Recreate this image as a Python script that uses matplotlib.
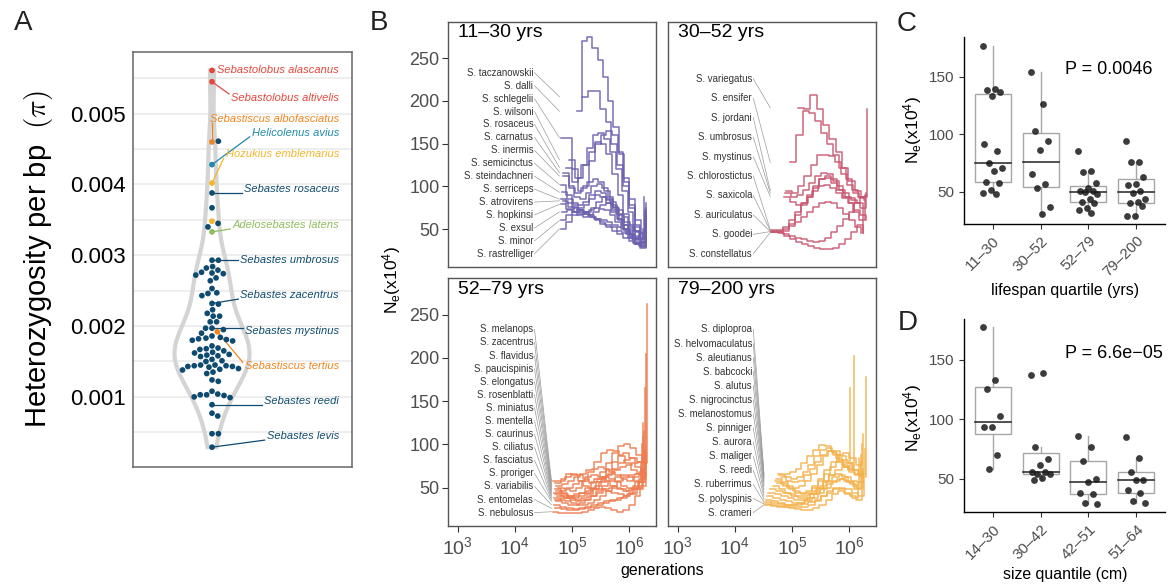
import matplotlib
matplotlib.use("Agg")
import matplotlib.pyplot as plt
import matplotlib.transforms as mtransforms
from matplotlib.patches import Rectangle
import numpy as np

plt.rcParams['font.family'] = ['Liberation Sans', 'DejaVu Sans']
plt.rcParams['mathtext.fontset'] = 'custom'
plt.rcParams['mathtext.rm'] = 'Liberation Sans'
plt.rcParams['mathtext.it'] = 'Liberation Sans:italic'
plt.rcParams['mathtext.bf'] = 'Liberation Sans:bold'

# ---------------- A: heterozygosity per species ----------------
LABELLED = ["Sebastolobus alascanus", "Sebastolobus altivelis", "Sebastiscus albofasciatus",
            "Helicolenus avius", "Hozukius emblemarius", "Sebastes rosaceus",
            "Adelosebastes latens", "Sebastes umbrosus", "Sebastes zacentrus",
            "Sebastes mystinus", "Sebastiscus tertius", "Sebastes reedi", "Sebastes levis"]
LABELLED_PI = [0.00561, 0.00545, 0.00460, 0.00428, 0.00402, 0.00388, 0.00333,
               0.00293, 0.00232, 0.00197, 0.00192, 0.00089, 0.00029]
EXTRA_PI = [0.00348]
EXTRA_GENUS = ["Hozukius"]
SEBASTES_PI = [0.00461, 0.00367, 0.00345, 0.00340, 0.00293,
               0.00284, 0.00282, 0.00279, 0.00276, 0.00275, 0.00274, 0.00272, 0.00268,
               0.00264, 0.00253, 0.00247, 0.00246, 0.00243, 0.00231, 0.00223,
               0.00218, 0.00214, 0.00214, 0.00206, 0.00206, 0.00197, 0.00195, 0.00190,
               0.00186, 0.00184, 0.00183, 0.00182, 0.00181, 0.00180, 0.00179,
               0.00172, 0.00169, 0.00168, 0.00167, 0.00165, 0.00163,
               0.00162, 0.00160, 0.00159, 0.00158, 0.00157, 0.00153, 0.00151, 0.00150,
               0.00145, 0.00145, 0.00144, 0.00144, 0.00143, 0.00143, 0.00142,
               0.00140, 0.00139, 0.00138, 0.00135, 0.00133, 0.00124, 0.00122,
               0.00108, 0.00104, 0.00103, 0.00103, 0.00102, 0.00100, 0.00099,
               0.00077, 0.00073, 0.00048, 0.00048]
GENUS_COLORS = {"Sebastolobus": "#e4473b", "Sebastiscus": "#f0851f", "Helicolenus": "#1f8aab",
                "Hozukius": "#f3b52a", "Sebastes": "#0f4b70", "Adelosebastes": "#8fbd5d"}
# where the species names sit (pi units)
LABEL_Y = [0.005615, 0.005221, 0.004930, 0.004728, 0.004423, 0.003930, 0.003427,
           0.002930, 0.002437, 0.001934, 0.001432, 0.000939, 0.000446]

# ---------------- B: PSMC trajectories by lifespan quartile ----------------
TL_SPECIES = ["S. taczanowskii", "S. dalli", "S. schlegelii", "S. wilsoni", "S. rosaceus",
              "S. carnatus", "S. inermis", "S. semicinctus", "S. steindachneri", "S. serriceps",
              "S. atrovirens", "S. hopkinsi", "S. exsul", "S. minor", "S. rastrelliger"]
TL_START = [5.18, 5.08, 4.80, 4.95, 4.90, 4.85, 4.85, 4.80, 4.82, 4.80, 4.84, 4.80, 4.82, 4.80, 4.80]
TL_END = [6.30, 6.28, 6.30, 6.28, 6.30, 6.28, 6.30, 6.30, 6.26, 6.28, 6.30, 6.24, 6.30, 6.27, 6.29]
TL_NE = [[205, 212, 212, 190, 175, 150, 125, 100, 75, 52, 35, 60],
         [188, 270, 275, 262, 248, 228, 200, 170, 138, 105, 78, 55, 40, 72],
         [157, 157, 120, 95, 100, 130, 150, 160, 165, 160, 140, 110, 85, 60, 45, 80],
         [131, 110, 125, 145, 160, 162, 155, 140, 120, 95, 70, 48, 38, 62],
         [122, 105, 110, 125, 140, 152, 150, 138, 115, 90, 68, 50, 40, 35, 75],
         [116, 98, 92, 98, 105, 108, 105, 95, 82, 68, 55, 45, 38, 32, 58],
         [112, 100, 88, 85, 92, 100, 103, 98, 88, 75, 62, 50, 40, 33, 30, 65],
         [102, 90, 80, 78, 82, 90, 95, 92, 84, 72, 60, 50, 42, 34, 29, 55],
         [93, 85, 78, 75, 78, 85, 90, 88, 80, 70, 62, 55, 48, 42, 38, 88],
         [85, 80, 76, 72, 70, 72, 75, 78, 80, 78, 72, 64, 55, 48, 42, 70],
         [83, 76, 70, 68, 70, 75, 82, 88, 85, 76, 66, 58, 52, 46, 44, 60],
         [79, 74, 70, 66, 64, 66, 70, 74, 72, 66, 58, 50, 44, 38, 32, 50],
         [70, 72, 75, 72, 68, 64, 62, 60, 58, 55, 52, 48, 44, 40, 35, 62],
         [60, 66, 70, 72, 70, 66, 62, 58, 55, 52, 48, 45, 40, 34, 30, 48],
         [50, 58, 66, 70, 68, 64, 60, 56, 52, 48, 44, 40, 36, 32, 28, 66]]

TR_SPECIES = ["S. variegatus", "S. ensifer", "S. jordani", "S. umbrosus", "S. mystinus",
              "S. chlorostictus", "S. saxicola", "S. auriculatus", "S. goodei", "S. constellatus"]
TR_START = [5.10, 4.97, 4.90, 4.88, 4.86, 4.64, 4.64, 4.64, 4.64, 4.64]
TR_END = [6.32, 6.26, 6.28, 6.24, 6.30, 6.28, 6.30, 6.20, 6.30, 6.25]
TR_NE = [[192, 190, 207, 190, 172, 156, 140, 122, 106, 95, 87, 190],
         [128, 160, 188, 186, 176, 162, 150, 137, 122, 108, 96, 88, 84],
         [95, 92, 100, 112, 125, 137, 137, 135, 128, 115, 102, 92, 86, 90],
         [92, 88, 90, 96, 104, 112, 116, 114, 106, 96, 88, 84, 80, 45],
         [88, 82, 78, 80, 88, 98, 108, 112, 108, 100, 92, 86, 80, 75, 90],
         [49, 49, 52, 60, 70, 80, 88, 95, 100, 102, 98, 92, 86, 80, 70, 60, 85],
         [48, 48, 48, 56, 66, 78, 90, 100, 108, 110, 104, 96, 88, 80, 72, 66, 60],
         [47, 47, 50, 54, 58, 64, 70, 76, 80, 82, 80, 75, 68, 60, 52, 45],
         [47, 46, 44, 42, 40, 38, 36, 35, 36, 40, 46, 54, 62, 70, 80, 88, 92],
         [46, 45, 42, 38, 35, 32, 30, 28, 26, 26, 28, 32, 38, 46, 55, 45]]

BL_SPECIES = ["S. melanops", "S. zacentrus", "S. flavidus", "S. paucispinis", "S. elongatus",
              "S. rosenblatti", "S. miniatus", "S. mentella", "S. caurinus", "S. ciliatus",
              "S. fasciatus", "S. proriger", "S. variabilis", "S. entomelas", "S. nebulosus"]
BL_START = [4.67, 4.70, 4.72, 4.75, 4.70, 4.72, 4.68, 4.70, 4.74, 4.68, 4.70, 4.72, 4.68, 4.70, 4.66]
BL_END = [6.32, 6.30, 6.28, 6.25, 6.26, 6.24, 6.22, 6.28, 6.20, 6.30, 6.24, 6.26, 6.22, 6.28, 6.30]
BL_NE = [[58, 58, 62, 66, 64, 60, 55, 60, 68, 78, 90, 98, 100, 96, 88, 78, 262],
         [55, 60, 66, 64, 58, 52, 48, 52, 60, 70, 80, 88, 90, 84, 74, 62, 205],
         [52, 54, 58, 62, 66, 70, 72, 74, 72, 68, 64, 60, 58, 62, 68, 165],
         [50, 48, 46, 50, 58, 68, 80, 90, 94, 92, 86, 78, 70, 66, 125],
         [48, 44, 40, 38, 40, 44, 50, 56, 62, 66, 70, 74, 76, 78, 80, 115],
         [46, 42, 38, 36, 38, 42, 48, 56, 64, 72, 78, 82, 84, 80, 108],
         [44, 46, 50, 54, 58, 62, 64, 62, 58, 52, 48, 46, 48, 56, 100],
         [42, 40, 38, 40, 44, 50, 56, 60, 62, 60, 56, 52, 50, 52, 60, 95],
         [40, 38, 36, 34, 36, 40, 46, 52, 58, 62, 64, 62, 58, 80],
         [38, 36, 34, 32, 30, 30, 32, 36, 40, 46, 52, 58, 62, 64, 66, 70, 90],
         [36, 38, 40, 42, 44, 46, 48, 48, 46, 44, 42, 40, 42, 48, 72],
         [34, 32, 30, 30, 32, 36, 40, 44, 48, 50, 50, 48, 46, 50, 56, 85],
         [30, 28, 26, 25, 26, 28, 30, 32, 34, 36, 38, 40, 44, 50, 65],
         [26, 25, 24, 24, 25, 26, 28, 30, 32, 34, 36, 38, 42, 48, 56, 75],
         [22, 21, 20, 20, 21, 22, 24, 26, 28, 26, 24, 22, 24, 30, 40, 52, 68]]

BR_SPECIES = ["S. diploproa", "S. helvomaculatus", "S. aleutianus", "S. babcocki", "S. alutus",
              "S. nigrocinctus", "S. melanostomus", "S. pinniger", "S. aurora", "S. maliger",
              "S. reedi", "S. ruberrimus", "S. polyspinis", "S. crameri"]
BR_START = [4.76, 4.78, 4.80, 4.72, 4.70, 4.74, 4.66, 4.62, 4.58, 4.56, 4.54, 4.53, 4.53, 4.53]
BR_END = [6.08, 6.30, 6.02, 6.25, 6.22, 6.28, 6.20, 6.25, 6.18, 6.24, 6.20, 6.26, 6.15, 6.22]
BR_NE = [[66, 66, 68, 72, 78, 86, 94, 99, 98, 92, 84, 76, 70, 202],
         [64, 62, 60, 62, 68, 76, 86, 94, 96, 90, 82, 74, 68, 64, 62, 178],
         [62, 58, 56, 58, 64, 72, 80, 88, 92, 88, 80, 74, 165],
         [60, 56, 52, 50, 52, 58, 66, 76, 86, 92, 92, 86, 78, 70, 66, 112],
         [58, 54, 50, 46, 44, 46, 52, 60, 70, 80, 88, 90, 84, 76, 100],
         [55, 52, 48, 44, 42, 44, 50, 58, 66, 74, 80, 82, 78, 70, 64, 95],
         [52, 48, 44, 40, 38, 38, 42, 48, 56, 64, 70, 74, 72, 66, 88],
         [48, 46, 44, 42, 40, 40, 42, 46, 52, 58, 62, 64, 62, 58, 56, 72],
         [44, 42, 40, 38, 36, 36, 38, 42, 48, 54, 58, 60, 56, 52, 84],
         [40, 38, 36, 34, 32, 32, 34, 38, 44, 50, 56, 60, 58, 54, 50, 68],
         [36, 34, 32, 30, 30, 32, 36, 42, 50, 58, 64, 66, 62, 56, 48, 80],
         [33, 32, 31, 30, 30, 30, 31, 33, 36, 40, 44, 48, 50, 48, 44, 40, 60],
         [31, 30, 29, 28, 27, 27, 28, 30, 34, 40, 46, 50, 48, 42, 38, 55],
         [30, 29, 28, 27, 26, 25, 24, 24, 26, 30, 36, 42, 46, 44, 40, 36, 64]]

# ---------------- C / D: mean Ne by quartile ----------------
C_CATS = ["11\u201330", "30\u201352", "52\u201379", "79\u2013200"]
C_NE = [[177, 139, 138, 137, 133.5, 91, 85.7, 74.6, 70.3, 68.3, 58.1, 57.8, 51.4, 49.1, 47.7],
        [153.8, 126, 102.8, 94, 86.2, 65.4, 56.4, 52.9, 37, 30.6],
        [85.7, 68, 66.8, 57.2, 52.9, 50.9, 50.9, 50, 47.7, 43.3, 41.3, 39.9, 35.5, 34, 31.2],
        [94, 76, 76, 62.5, 56.4, 55.8, 50.6, 49, 43.3, 41.3, 39.9, 37.5, 29, 29]]
C_P = "P = 0.0046"
D_CATS = ["14\u201330", "30\u201342", "42\u201351", "51\u201364"]
D_NE = [[177.6, 133.4, 125.5, 102.4, 93.7, 93.7, 70, 57.9],
        [137.6, 139, 76.2, 66.3, 61.5, 55.1, 55.1, 54.2, 54.2, 50.8, 48.6],
        [85.5, 76.2, 64.4, 50, 47.5, 38.2, 36.8, 29.2, 28.3],
        [85.2, 67.7, 55.1, 48.6, 48.6, 40.4, 38.2, 31.1, 29.2]]
D_P = "P = 6.6e\u221205"

W, H = 1175, 585
fig = plt.figure(figsize=(W / 100, H / 100), dpi=100)


def px_axes(x0, y0, x1, y1):
    return fig.add_axes([x0 / W, 1 - y1 / H, (x1 - x0) / W, (y1 - y0) / H])


def ftext(x, y, s, **kw):
    return fig.text(x / W, 1 - y / H, s, **kw)


def swarm_offsets(ys, order, d):
    """x offsets (px) so that no two dots of diameter d overlap, closest to 0 first."""
    placed = []
    out = np.zeros(len(ys))
    for i in order:
        y = ys[i]
        cands = [0.0]
        for px, py in placed:
            dy = abs(y - py)
            if dy < d:
                dx = np.sqrt(d * d - dy * dy) + 0.01
                cands += [px + dx, px - dx]
        cands.sort(key=abs)
        for x in cands:
            if all((x - px) ** 2 + (y - py) ** 2 >= d * d - 1e-6 for px, py in placed):
                break
        placed.append((x, y))
        out[i] = x
    return out


# ---- panel A ----
axA = px_axes(133, 52, 352, 467)
ylo, yhi = 0.00001, 0.00587
axA.set_xlim(-79, 140)          # x in pixels around the violin centre
axA.set_ylim(ylo, yhi)
ypx = 415 / (yhi - ylo)
for g in np.arange(0.0005, 0.0056, 0.0005):
    axA.axhline(g, color="#ebebeb", lw=1.2, zorder=0)

lab_genus = [n.split()[0] for n in LABELLED]
all_pi = np.array(LABELLED_PI + EXTRA_PI + SEBASTES_PI)
all_genus = lab_genus + EXTRA_GENUS + ["Sebastes"] * len(SEBASTES_PI)

# violin outline from a gaussian kde (nrd0 bandwidth)
n = len(all_pi)
iqr = np.subtract(*np.percentile(all_pi, [75, 25]))
bw = 0.9 * min(all_pi.std(ddof=1), iqr / 1.34) * n ** -0.2
grid = np.linspace(all_pi.min(), all_pi.max(), 300)
dens = np.exp(-0.5 * ((grid[:, None] - all_pi[None, :]) / bw) ** 2).sum(axis=1)
half = 37.5 * dens / dens.max()
axA.fill(np.concatenate([half, -half[::-1]]), np.concatenate([grid, grid[::-1]]),
         facecolor="none", edgecolor="#d4d4d4", lw=3.0, zorder=1)

# beeswarm: labelled species first, then the rest from the top down
order = list(range(len(LABELLED) + len(EXTRA_PI)))
rest = sorted(range(len(order), n), key=lambda i: -all_pi[i])
xs = swarm_offsets(all_pi * ypx, order + rest, 6.4)
axA.scatter(xs, all_pi, s=17, c=[GENUS_COLORS[g] for g in all_genus], zorder=3, linewidths=0)

label_texts = []
for name, g, ly in zip(LABELLED, lab_genus, LABEL_Y):
    t = axA.text(127, ly, name, ha="right", va="center", fontsize=8, style="italic",
                 color=GENUS_COLORS[g], zorder=4)
    label_texts.append(t)

axA.set_xticks([])
axA.set_yticks([0.001, 0.002, 0.003, 0.004, 0.005])
axA.set_yticklabels(["0.001", "0.002", "0.003", "0.004", "0.005"])
axA.tick_params(axis="y", length=0, pad=5, labelsize=16)
for sp in axA.spines.values():
    sp.set_color("#666666")
    sp.set_linewidth(1.1)
ftext(39, 259, "Heterozygosity per bp  $(\\pi)$", rotation=90, fontsize=21,
      ha="center", va="center", math_fontfamily="cm")

# ---- panel B ----
B_RECTS = [(448, 22, 656, 267), (668, 22, 876, 267), (448, 278, 656, 526), (668, 278, 876, 526)]
FACETS = [("11\u201330 yrs", TL_SPECIES, TL_START, TL_END, TL_NE, "#6b60ad"),
          ("30\u201352 yrs", TR_SPECIES, TR_START, TR_END, TR_NE, "#c9566f"),
          ("52\u201379 yrs", BL_SPECIES, BL_START, BL_END, BL_NE, "#ee7c4f"),
          ("79\u2013200 yrs", BR_SPECIES, BR_START, BR_END, BR_NE, "#f4b24c")]
LX0, LX1 = 2.83, 6.47
for k, (title, names, t0s, t1s, nes, col) in enumerate(FACETS):
    ax = px_axes(*B_RECTS[k])
    ax.set_xscale("log")
    ax.set_xlim(10 ** LX0, 10 ** LX1)
    ax.set_ylim(5.5, 292.5)
    for t0, t1, ne in zip(t0s, t1s, nes):
        ax.step(np.logspace(t0, t1, len(ne)), ne, where="post", color=col, lw=1.1, alpha=0.9)
    xr = 0.41 if k % 2 == 0 else 0.404
    ys = np.linspace(233 if len(names) > 10 else 226, 21, len(names))
    xe = 10 ** (min(t0s) - 0.02)
    xs_line = 10 ** (LX0 + (xr + 0.006) * (LX1 - LX0))
    trans = mtransforms.blended_transform_factory(ax.transAxes, ax.transData)
    for name, y, ne in zip(names, ys, nes):
        ax.text(xr, y, name, transform=trans, ha="right", va="center", fontsize=6.9, color="#333333")
        ax.plot([xs_line, xe], [y, ne[0]], color="#9a9a9a", lw=0.5)
    ax.text(10 / 208, 1 - 11 / 245, title, transform=ax.transAxes, ha="left", va="center", fontsize=14)
    ax.minorticks_off()
    ax.set_xticks([1e3, 1e4, 1e5, 1e6])
    ax.set_yticks([50, 100, 150, 200, 250])
    ax.tick_params(colors="#333333", labelcolor="#4d4d4d", length=4, width=0.8)
    ax.tick_params(axis="x", labelsize=14, pad=3)
    ax.tick_params(axis="y", labelsize=13, pad=2)
    if k < 2:
        ax.tick_params(axis="x", length=0, labelbottom=False)
    if k % 2 == 1:
        ax.tick_params(axis="y", length=0, labelleft=False)
    for sp in ax.spines.values():
        sp.set_color("#555555")
        sp.set_linewidth(1.0)
ftext(392, 280, r"N$_\mathrm{e}$(x10$^4$)", rotation=90, fontsize=12.5, ha="center", va="center")
ftext(662, 570, "generations", fontsize=11.5, ha="center", va="center")


# ---- panels C and D ----
def box_panel(ax, groups, cats):
    for i, vals in enumerate(groups):
        v = np.array(vals)
        pos = i + 1
        q1, med, q3 = np.percentile(v, [25, 50, 75])
        r = q3 - q1
        lo = v[v >= q1 - 1.5 * r].min()
        hi = v[v <= q3 + 1.5 * r].max()
        ax.plot([pos, pos], [q3, hi], color="#a6a6a6", lw=1.0, zorder=1)
        ax.plot([pos, pos], [lo, q1], color="#a6a6a6", lw=1.0, zorder=1)
        ax.add_patch(Rectangle((pos - 0.375, q1), 0.75, q3 - q1, facecolor="white",
                               edgecolor="#a6a6a6", lw=1.0, zorder=2))
        ax.plot([pos - 0.375, pos + 0.375], [med, med], color="#333333", lw=1.2, zorder=3)
        jit = ((np.arange(len(v)) * 0.618034) % 1 - 0.5) * 0.42
        ax.scatter(pos + jit, v, s=24, color="#1a1a1a", alpha=0.85, linewidths=0, zorder=4)
    ax.set_xlim(0.4, 4.6)
    ax.set_ylim(21.8, 184.5)
    ax.set_xticks([1, 2, 3, 4])
    ax.set_xticklabels(cats, rotation=45, ha="right", va="top", rotation_mode="anchor")
    ax.set_yticks([50, 100, 150])
    ax.tick_params(colors="#333333", labelcolor="#4d4d4d", length=3.5, width=0.8, labelsize=11)
    for s in ("top", "right"):
        ax.spines[s].set_visible(False)
    for s in ("left", "bottom"):
        ax.spines[s].set_linewidth(1.0)
        ax.spines[s].set_color("black")


axC = px_axes(964, 37, 1165, 224)
box_panel(axC, C_NE, C_CATS)
axD = px_axes(964, 319, 1165, 512)
box_panel(axD, D_NE, D_CATS)
ftext(1065, 70, C_P, fontsize=13, ha="left", va="center")
ftext(1065, 353, D_P, fontsize=13, ha="left", va="center")
ftext(913, 130, r"N$_\mathrm{e}$(x10$^4$)", rotation=90, fontsize=12.5, ha="center", va="center")
ftext(913, 418, r"N$_\mathrm{e}$(x10$^4$)", rotation=90, fontsize=12.5, ha="center", va="center")
ftext(1065, 290, "lifespan quartile (yrs)", fontsize=11.4, ha="center", va="center")
ftext(1065, 575, "size quantile (cm)", fontsize=11.4, ha="center", va="center")

for letter, x, y in [("A", 23, 23), ("B", 379, 23), ("C", 907, 24), ("D", 908, 323)]:
    ftext(x, y, letter, fontsize=20, ha="center", va="center", color="#222222")

# leader lines for the labelled species in A (dot -> nearest edge of its label)
fig.canvas.draw()
inv = axA.transData.inverted()
for i, (t, pi, g) in enumerate(zip(label_texts, LABELLED_PI, lab_genus)):
    bb = t.get_window_extent()
    p = axA.transData.transform((xs[i], pi))
    q = (min(max(p[0], bb.x0 - 2), bb.x1), min(max(p[1], bb.y0 + 1), bb.y1 - 1))
    if np.hypot(q[0] - p[0], q[1] - p[1]) < 8:
        continue
    a, b = inv.transform(p), inv.transform(q)
    axA.plot([a[0], b[0]], [a[1], b[1]], color=GENUS_COLORS[g], lw=0.9, zorder=2)

fig.savefig("out.png", dpi=100)
